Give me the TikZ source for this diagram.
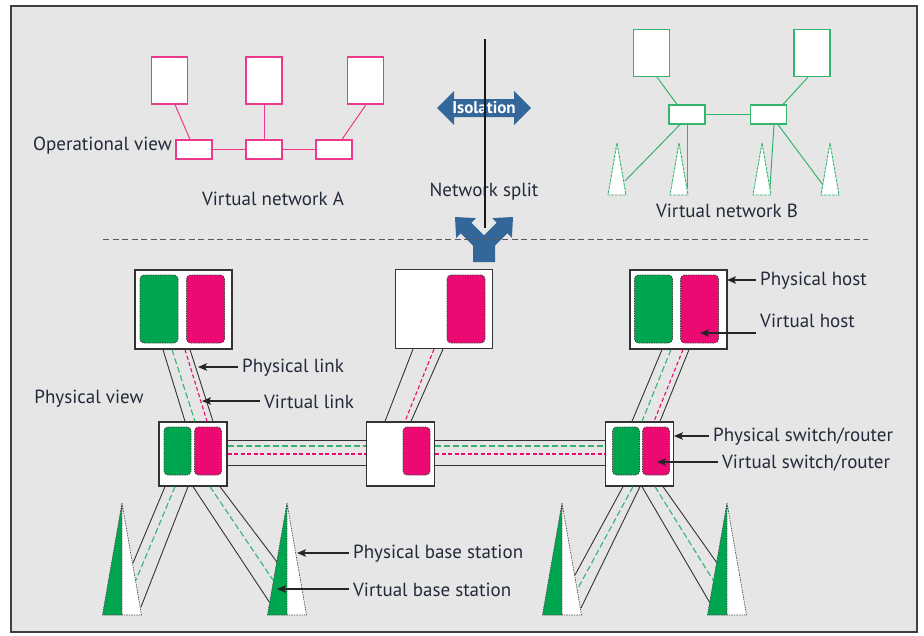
\documentclass[tikz,border=0pt]{standalone}
\usepackage{fontspec}
\setmainfont{PT Sans}
\usetikzlibrary{arrows, arrows.meta}
\definecolor{pinkline}{HTML}{EE3A8C}
\definecolor{greenline}{HTML}{33B56E}
\definecolor{vpink}{HTML}{EC0A72}
\definecolor{vgreen}{HTML}{00A550}
\definecolor{isoblue}{HTML}{336699}
\definecolor{bgray}{HTML}{E6E6E6}
\definecolor{txt}{HTML}{222A3A}
\tikzstyle{vhosta} = [rectangle, minimum width=36pt, minimum height=47pt, draw=pinkline, fill=white, line width=1.2pt, inner sep=0pt]
\tikzstyle{vswa} = [rectangle, minimum width=36pt, minimum height=19pt, draw=pinkline, fill=white, line width=1.2pt, inner sep=0pt]
\tikzstyle{vhostb} = [vhosta, draw=greenline]
\tikzstyle{vswb} = [vswa, draw=greenline]
\tikzstyle{alink} = [line width=1pt, draw=pinkline]
\tikzstyle{blink} = [line width=1pt, draw=greenline]
\tikzstyle{btower} = [line width=0.9pt, draw=greenline, dash pattern=on 3pt off 1pt, fill=white]
\tikzstyle{phost} = [rectangle, minimum width=97pt, minimum height=79pt, draw=black!80, fill=white, line width=1.3pt, inner sep=0pt]
\tikzstyle{pswitch} = [phost, minimum width=68pt, minimum height=64pt]
\tikzstyle{vmgreen} = [rectangle, rounded corners=4pt, minimum width=38pt, minimum height=68pt, fill=vgreen, draw=black!75, dash pattern=on 1.5pt off 1pt, line width=0.8pt, inner sep=0pt]
\tikzstyle{vmpink} = [vmgreen, fill=vpink]
\tikzstyle{vsgreen} = [vmgreen, minimum width=27pt, minimum height=48pt]
\tikzstyle{vspink} = [vsgreen, fill=vpink]
\tikzstyle{plink} = [line width=0.9pt, draw=black!80]
\tikzstyle{glink} = [line width=1.1pt, draw=greenline, dash pattern=on 6pt off 3pt]
\tikzstyle{rlink} = [line width=1.1pt, draw=vpink, dash pattern=on 4pt off 2.5pt]
\tikzstyle{tower} = [line width=0.7pt, draw=black!70, dash pattern=on 1.5pt off 1pt]
\tikzstyle{lbl} = [font=\fontsize{19}{22}\selectfont, text=txt, inner sep=4pt]
\tikzstyle{arrow} = [line width=1.1pt, draw=black!85, -{Stealth[length=9pt, width=7.5pt, inset=2pt]}]
\begin{document}
\begin{tikzpicture}[x=1pt, y=-1pt]
\useasboundingbox (0,0) rectangle (924,635);
\fill[bgray] (11,6) rectangle (917,632);
\draw[black!75, line width=1.5pt] (11,6) rectangle (917,632);

% virtual network A
\node (ha1) [vhosta] at (169.5,80.5) {};
\node (ha2) [vhosta] at (264,80.5) {};
\node (ha3) [vhosta] at (365.5,80.5) {};
\node (sa1) [vswa] at (194,149.5) {};
\node (sa2) [vswa] at (264,149.5) {};
\node (sa3) [vswa] at (334,149.5) {};
\draw [alink] ([xshift=5.5pt]ha1.south) -- ([xshift=-4pt]sa1.north);
\draw [alink] (ha2.south) -- (sa2.north);
\draw [alink] ([xshift=0.5pt]ha3.south) -- ([xshift=8pt]sa3.north);
\draw [alink] (sa1.east) -- (sa2.west);
\draw [alink] (sa2.east) -- (sa3.west);
\node (opview) [lbl, anchor=east] at (176,146) {Operational view};
\node (vneta) [lbl] at (273,199) {Virtual network A};

% virtual network B
\node (hb1) [vhostb] at (651.5,53) {};
\node (hb2) [vhostb] at (812,53) {};
\node (sb1) [vswb] at (687,114.5) {};
\node (sb2) [vswb] at (768.5,114.5) {};
\coordinate (tb1) at (617,143);
\coordinate (tb2) at (679,143);
\coordinate (tb3) at (762,143);
\coordinate (tb4) at (830,143);
\draw [blink] ([xshift=5.5pt]hb1.south) -- ([xshift=-10pt]sb1.north);
\draw [blink] ([xshift=-4pt]hb2.south) -- ([xshift=14.5pt]sb2.north);
\draw [blink] (sb1.east) -- (sb2.west);
\draw [blink] ([xshift=-7pt]sb1.south) -- ([shift={(8,38)}]tb1);
\draw [blink] ([xshift=0pt]sb1.south) -- ([shift={(8,45)}]tb2);
\draw [blink] ([xshift=5.5pt]sb2.south) -- ([shift={(8,45)}]tb3);
\draw [blink] ([xshift=9.5pt]sb2.south) -- ([shift={(-7,42)}]tb4);
\draw [btower] (tb1) -- ++(-9,52) -- ++(18,0) -- cycle;
\draw [btower] (tb2) -- ++(-9,52) -- ++(18,0) -- cycle;
\draw [btower] (tb3) -- ++(-9,52) -- ++(18,0) -- cycle;
\draw [btower] (tb4) -- ++(-9,52) -- ++(18,0) -- cycle;
\node (vnetb) [lbl] at (727,211) {Virtual network B};

% isolation and split
\coordinate (iso) at (484,108);
\fill[isoblue] (iso) ++(-47,0) -- ++(17,-17) -- ++(0,8) -- ++(60,0) -- ++(0,-8) -- ++(17,17) -- ++(-17,17) -- ++(0,-8) -- ++(-60,0) -- ++(0,8) -- cycle;
\node (isotext) [font=\fontsize{17}{20}\selectfont\bfseries, text=white, inner sep=0pt] at (iso) {Isolation};
\node (netsplit) [lbl] at (484,192) {Network split};
\fill[isoblue] (473,262) -- (473,245.6) -- (460.7,233.3) -- (456.1,237.9) -- (455,217) -- (475.9,218.1) -- (471.3,222.7) -- (484,235.4) -- (496.7,222.7) -- (492.1,218.1) -- (513,217) -- (511.9,237.9) -- (507.3,233.3) -- (495,245.6) -- (495,262) -- cycle;
\coordinate (splittop) at (485,39);
\coordinate (splitbot) at (485,228);
\draw [line width=1.2pt, black!90] (splittop) -- (splitbot);
\draw [line width=1pt, black!65, dash pattern=on 6pt off 3.5pt] (103,239) -- (868,239);

% physical hosts and switches
\node (ph1) [phost] at (183.5,309.5) {};
\node (ph2) [phost] at (444,309) {};
\node (ph3) [phost] at (678.5,309.5) {};
\node (vg1) [vmgreen] at (159,309) {};
\node (vp1) [vmpink] at (205.5,309) {};
\node (vp2) [vmpink] at (466,309) {};
\node (vg3) [vmgreen] at (653.5,309) {};
\node (vp3) [vmpink] at (699.5,309) {};
\node (sw1) [pswitch] at (193,454) {};
\node (sw2) [pswitch] at (400.5,454) {};
\node (sw3) [pswitch] at (639.5,454) {};
\node (sg1) [vsgreen] at (177.5,451) {};
\node (sp1) [vspink] at (208,451) {};
\node (sp2) [vspink] at (416.5,451) {};
\node (sg3) [vsgreen] at (626,451) {};
\node (sp3) [vspink] at (656,451) {};

% host to switch links
\draw [plink] ([xshift=-20.5pt]ph1.south) -- ([xshift=-8pt]sw1.north);
\draw [plink] ([xshift=6.5pt]ph1.south) -- ([xshift=20pt]sw1.north);
\draw [glink] ([xshift=-11.5pt]ph1.south) -- ([xshift=2pt]sw1.north);
\draw [rlink] ([xshift=1.5pt]ph1.south) -- ([xshift=14pt]sw1.north);
\draw [plink] ([xshift=-31pt]ph2.south) -- ([xshift=-15.5pt]sw2.north);
\draw [plink] ([xshift=-1pt]ph2.south) -- ([xshift=10.5pt]sw2.north);
\draw [rlink] ([xshift=-10pt]ph2.south) -- ([xshift=4.5pt]sw2.north);
\draw [plink] ([xshift=-16.5pt]ph3.south) -- ([xshift=-7.5pt]sw3.north);
\draw [plink] ([xshift=10.5pt]ph3.south) -- ([xshift=20.5pt]sw3.north);
\draw [glink] ([xshift=-7.5pt]ph3.south) -- ([xshift=2.5pt]sw3.north);
\draw [rlink] ([xshift=4.5pt]ph3.south) -- ([xshift=14.5pt]sw3.north);

% switch to switch links
\draw [plink] ([yshift=14pt]sw1.east) -- ([yshift=14pt]sw2.west);
\draw [glink] ([yshift=8pt]sw1.east) -- ([yshift=8pt]sw2.west);
\draw [rlink] (sw1.east) -- (sw2.west);
\draw [plink] ([yshift=-11pt]sw1.east) -- ([yshift=-11pt]sw2.west);
\draw [plink] ([yshift=14pt]sw2.east) -- ([yshift=14pt]sw3.west);
\draw [glink] ([yshift=8pt]sw2.east) -- ([yshift=8pt]sw3.west);
\draw [rlink] (sw2.east) -- (sw3.west);
\draw [plink] ([yshift=-11pt]sw2.east) -- ([yshift=-11pt]sw3.west);

% base stations
\coordinate (bs1) at (122,503);
\coordinate (bs2) at (287,503);
\coordinate (bs3) at (562,503);
\coordinate (bs4) at (727,503);
\draw [plink] ([xshift=-28pt]sw1.south) -- ([shift={(11,60)}]bs1);
\draw [plink] ([xshift=-5pt]sw1.south) -- ([shift={(19,104)}]bs1);
\draw [glink] ([xshift=-18pt]sw1.south) -- ([shift={(14,77)}]bs1);
\draw [plink] ([xshift=0pt]sw1.south) -- ([shift={(-17,100)}]bs2);
\draw [plink] ([xshift=27pt]sw1.south) -- ([shift={(-10,59)}]bs2);
\draw [glink] ([xshift=17pt]sw1.south) -- ([shift={(-14,77)}]bs2);
\draw [plink] ([xshift=-16.5pt]sw3.south) -- ([shift={(13,72)}]bs3);
\draw [plink] ([xshift=0.5pt]sw3.south) -- ([shift={(19,105)}]bs3);
\draw [glink] ([xshift=-6.5pt]sw3.south) -- ([shift={(15,87)}]bs3);
\draw [plink] ([xshift=2.5pt]sw3.south) -- ([shift={(-17,100)}]bs4);
\draw [plink] ([xshift=23.5pt]sw3.south) -- ([shift={(-10,60)}]bs4);
\draw [glink] ([xshift=15.5pt]sw3.south) -- ([shift={(-14,77)}]bs4);
\fill [vgreen] (bs1) -- ++(-19.5,112) -- ++(19.5,0) -- cycle;
\fill [white] (bs1) -- ++(19.5,112) -- ++(-19.5,0) -- cycle;
\draw [tower] (bs1) -- ++(-19.5,112) -- ++(39,0) -- cycle (bs1) -- ++(0,112);
\fill [vgreen] (bs2) -- ++(-19.5,112) -- ++(19.5,0) -- cycle;
\fill [white] (bs2) -- ++(19.5,112) -- ++(-19.5,0) -- cycle;
\draw [tower] (bs2) -- ++(-19.5,112) -- ++(39,0) -- cycle (bs2) -- ++(0,112);
\fill [vgreen] (bs3) -- ++(-19.5,112) -- ++(19.5,0) -- cycle;
\fill [white] (bs3) -- ++(19.5,112) -- ++(-19.5,0) -- cycle;
\draw [tower] (bs3) -- ++(-19.5,112) -- ++(39,0) -- cycle (bs3) -- ++(0,112);
\fill [vgreen] (bs4) -- ++(-19.5,112) -- ++(19.5,0) -- cycle;
\fill [white] (bs4) -- ++(19.5,112) -- ++(-19.5,0) -- cycle;
\draw [tower] (bs4) -- ++(-19.5,112) -- ++(39,0) -- cycle (bs4) -- ++(0,112);

% labels
\node (physview) [lbl] at (89,399) {Physical view};
\node (lplink) [lbl, anchor=west] at (238,368) {Physical link};
\node (lvlink) [lbl, anchor=west] at (260,402) {Virtual link};
\node (lphost) [lbl, anchor=west] at (756,281) {Physical host};
\node (lvhost) [lbl, anchor=west] at (756,321) {Virtual host};
\node (lpsw) [lbl, anchor=west] at (709,437) {Physical switch/router};
\node (lvsw) [lbl, anchor=west] at (718,463) {Virtual switch/router};
\node (lpbs) [lbl, anchor=west] at (349,554) {Physical base station};
\node (lvbs) [lbl, anchor=west] at (349,590) {Virtual base station};
\coordinate (tplink) at (198,367);
\coordinate (tvlink) at (202,401);
\coordinate (tphost) at (727,280);
\coordinate (tvhost) at (700,333);
\coordinate (tpsw) at (674,436);
\coordinate (tvsw) at (657,462);
\coordinate (tpbs) at (297,553);
\coordinate (tvbs) at (277,589);
\draw [arrow] (lplink.west |- tplink) -- (tplink);
\draw [arrow] (lvlink.west |- tvlink) -- (tvlink);
\draw [arrow] (lphost.west |- tphost) -- (tphost);
\draw [arrow] (lvhost.west |- tvhost) -- (tvhost);
\draw [arrow] (lpsw.west |- tpsw) -- (tpsw);
\draw [arrow] (lvsw.west |- tvsw) -- (tvsw);
\draw [arrow] (lpbs.west |- tpbs) -- (tpbs);
\draw [arrow] (lvbs.west |- tvbs) -- (tvbs);
\end{tikzpicture}
\end{document}
